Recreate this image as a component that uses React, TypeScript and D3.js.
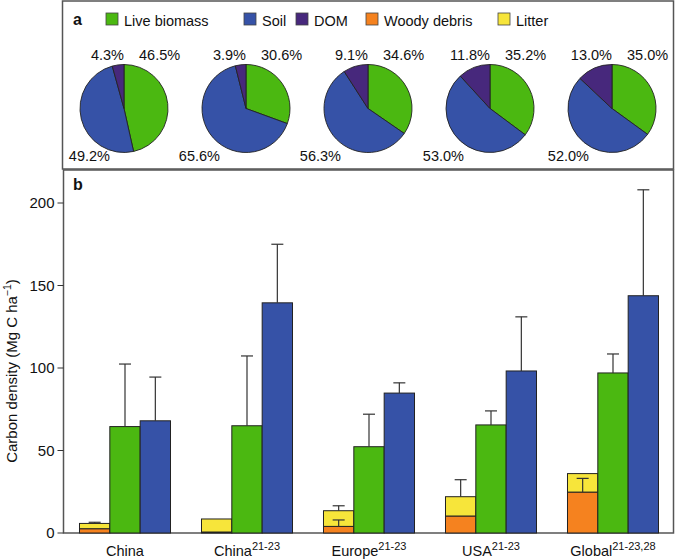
import React from "react";
import * as d3 from "d3";

// ---------- data ----------
const categories = ["China", "China", "Europe", "USA", "Global"];
const superscripts = ["", "21-23", "21-23", "21-23", "21-23,28"];

const woody = [2.6, 0.6, 4.0, 10.3, 24.8];
const woodyErr = [null, null, 3.9, null, 8.3];
const litter = [3.2, 7.9, 9.5, 11.7, 11.2];
const litterErr = [0.7, null, 3.0, 10.3, null];
const live = [64.5, 65.0, 52.3, 65.5, 97.0];
const liveErr = [37.9, 42.3, 19.7, 8.5, 11.5];
const soil = [68.0, 139.5, 84.8, 98.2, 143.8];
const soilErr = [26.5, 35.5, 6.2, 32.8, 64.2];

const pieLive = [46.5, 30.6, 34.6, 35.2, 35.0];
const pieSoil = [49.2, 65.6, 56.3, 53.0, 52.0];
const pieDOM = [4.3, 3.9, 9.1, 11.8, 13.0];

const yTicks = [0, 50, 100, 150, 200];

const legendItems = ["Live biomass", "Soil", "DOM", "Woody debris", "Litter"];

// ---------- styles / layout ----------
const COLORS: Record<string, string> = {
  "Live biomass": "#4bb811",
  Soil: "#3652a7",
  DOM: "#47287c",
  "Woody debris": "#f5821f",
  Litter: "#f7e53a",
};
const legendX = [106, 244, 296, 366, 498];
const soilLabelDx = [-14, -26, -27, -26, -23];
const FONT = "'Liberation Sans', Arial, Helvetica, sans-serif";

const W = 675;
const H = 559;
const frameL = 63.5;
const frameR = 673.5;
const bTop = 170;
const bBottom = 533;

export default function App() {
  const ids = categories.map((_, i) => String(i));
  const x = d3
    .scaleBand<string>()
    .domain(ids)
    .range([64, 674])
    .paddingInner(0.254)
    .paddingOuter(0.127);
  const sub = d3
    .scaleBand<string>()
    .domain(["stack", "live", "soil"])
    .range([0, x.bandwidth()]);
  const y = d3.scaleLinear().domain([0, 220]).range([bBottom, bTop]);

  const pieGen = d3
    .pie<number>()
    .sort(null)
    .startAngle(0)
    .endAngle(2 * Math.PI);
  const arcGen = d3.arc<d3.PieArcDatum<number>>().innerRadius(0).outerRadius(44);
  const pieColors = [COLORS["Live biomass"], COLORS.Soil, COLORS.DOM];
  const pieY = 108.5;

  const bw = sub.bandwidth();

  const errBar = (cx: number, v0: number, v1: number, key: string) => (
    <g key={key} stroke="#333" strokeWidth={1.2}>
      <line x1={cx} x2={cx} y1={y(v0)} y2={y(v1)} />
      <line x1={cx - 6} x2={cx + 6} y1={y(v1)} y2={y(v1)} />
    </g>
  );

  return (
    <svg
      width={W}
      height={H}
      style={{ position: "absolute", left: 0, top: 0, background: "#fff" }}
      fontFamily={FONT}
    >
      {/* Panel a frame */}
      <rect x={frameL - 1} y={1} width={frameR - frameL + 1} height={168} fill="none" stroke="#555" strokeWidth={1.5} />
      <text x={73} y={25} fontSize={16} fontWeight="bold" fill="#111">a</text>
      {legendItems.map((name, i) => (
        <g key={name}>
          <rect x={legendX[i]} y={13} width={12} height={12} fill={COLORS[name]} stroke="#444" strokeWidth={0.8} />
          <text x={legendX[i] + 18} y={25.5} fontSize={14.5} fill="#111">{name}</text>
        </g>
      ))}

      {/* Pies */}
      {ids.map((id, i) => {
        const cx = (x(id) as number) + x.bandwidth() / 2 - 1;
        const arcs = pieGen([pieLive[i], pieSoil[i], pieDOM[i]]);
        return (
          <g key={"pie" + id}>
            <g transform={`translate(${cx},${pieY})`}>
              {arcs.map((a, j) => (
                <path key={j} d={arcGen(a) as string} fill={pieColors[j]} stroke="#222" strokeWidth={0.9} />
              ))}
            </g>
            <text x={cx} y={60} fontSize={14.5} textAnchor="end" fill="#111">{pieDOM[i].toFixed(1)}%</text>
            <text x={cx + 15} y={60} fontSize={14.5} textAnchor="start" fill="#111">{pieLive[i].toFixed(1)}%</text>
            <text x={cx + soilLabelDx[i]} y={161} fontSize={14.5} textAnchor="end" fill="#111">{pieSoil[i].toFixed(1)}%</text>
          </g>
        );
      })}

      {/* Panel b */}
      <rect x={frameL} y={bTop} width={frameR - frameL} height={bBottom - bTop} fill="none" stroke="#555" strokeWidth={1.5} />
      <text x={73} y={190} fontSize={16} fontWeight="bold" fill="#111">b</text>

      {/* y axis ticks */}
      {yTicks.map((t) => (
        <g key={"t" + t}>
          <line x1={frameL - 6} x2={frameL} y1={y(t)} y2={y(t)} stroke="#333" strokeWidth={1} />
          <text x={frameL - 9} y={y(t) + 5} fontSize={15} textAnchor="end" fill="#111">{t}</text>
        </g>
      ))}
      <text transform={`translate(17,${371}) rotate(-90)`} fontSize={15} textAnchor="middle" fill="#111">
        Carbon density (Mg C ha
        <tspan dy={-6} fontSize={10.5}>−1</tspan>
        <tspan dy={6}>)</tspan>
      </text>

      {/* bars */}
      {ids.map((id, i) => {
        const gx = x(id) as number;
        const sx = gx + (sub("stack") as number);
        const lx = gx + (sub("live") as number);
        const ox = gx + (sub("soil") as number);
        const tot = woody[i] + litter[i];
        const we = woodyErr[i];
        const le = litterErr[i];
        return (
          <g key={"bar" + id}>
            <rect x={sx} y={y(woody[i])} width={bw} height={y(0) - y(woody[i])} fill={COLORS["Woody debris"]} stroke="#222" strokeWidth={1} />
            <rect x={sx} y={y(tot)} width={bw} height={y(woody[i]) - y(tot)} fill={COLORS.Litter} stroke="#222" strokeWidth={1} />
            <rect x={lx} y={y(live[i])} width={bw} height={y(0) - y(live[i])} fill={COLORS["Live biomass"]} stroke="#222" strokeWidth={1} />
            <rect x={ox} y={y(soil[i])} width={bw} height={y(0) - y(soil[i])} fill={COLORS.Soil} stroke="#222" strokeWidth={1} />
            {we != null && errBar(sx + bw / 2, woody[i], woody[i] + we, "we")}
            {le != null && errBar(sx + bw / 2, tot, tot + le, "le")}
            {errBar(lx + bw / 2, live[i], live[i] + liveErr[i], "lie")}
            {errBar(ox + bw / 2, soil[i], soil[i] + soilErr[i], "soe")}
            <text x={gx + x.bandwidth() / 2} y={556} fontSize={14.5} textAnchor="middle" fill="#111">
              {categories[i]}
              {superscripts[i] && (
                <tspan dy={-6} fontSize={11}>{superscripts[i]}</tspan>
              )}
            </text>
          </g>
        );
      })}
    </svg>
  );
}
